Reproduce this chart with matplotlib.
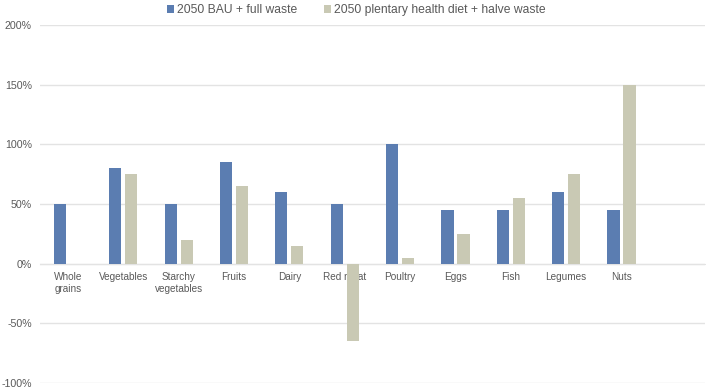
import matplotlib as mpl
import matplotlib.pyplot as plt
import numpy as np
from matplotlib.ticker import FuncFormatter

mpl.rcParams['font.family'] = ['Liberation Sans', 'DejaVu Sans']
mpl.rcParams['font.size'] = 7.5

categories = ['Whole\ngrains', 'Vegetables', 'Starchy\nvegetables', 'Fruits', 'Dairy',
              'Red meat', 'Poultry', 'Eggs', 'Fish', 'Legumes', 'Nuts', '']
bau = [50, 80, 50, 85, 60, 50, 100, 45, 45, 60, 45, np.nan]
phd = [0, 75, 20, 65, 15, -65, 5, 25, 55, 75, 150, np.nan]
series_names = ['2050 BAU + full waste', '2050 plentary health diet + halve waste']

BLUE = '#5b7db1'
GREY = '#c9c9b4'
TEXT = '#595959'

fig = plt.figure(figsize=(7.06, 3.88), dpi=100)
ax = fig.add_axes([0.057, 0.013, 0.941, 0.923])

x = np.arange(len(categories))
width = 0.22
ax.bar(x - 0.145, bau, width, color=BLUE, label=series_names[0], zorder=3)
ax.bar(x + 0.145, phd, width, color=GREY, label=series_names[1], zorder=3)

ax.set_xlim(-0.5, len(categories) - 0.5)
ax.set_ylim(-100, 200)
ax.set_yticks(np.arange(-100, 201, 50))
ax.yaxis.set_major_formatter(FuncFormatter(lambda v, p: f'{int(v)}%'))
ax.grid(axis='y', color='#e3e3e3', linewidth=1, zorder=0)

for s in ['top', 'right', 'left']:
    ax.spines[s].set_visible(False)
ax.spines['bottom'].set_position(('data', 0))
ax.spines['bottom'].set_color('#e3e3e3')
ax.spines['bottom'].set_zorder(1)

ax.set_xticks(x)
ax.set_xticklabels(categories, color=TEXT, linespacing=1.2, fontsize=7.2)
ax.tick_params(axis='x', length=0, pad=6)
ax.tick_params(axis='y', length=0, pad=6, labelcolor=TEXT, labelsize=7.7)

fig.legend(loc='center', bbox_to_anchor=(0.505, 0.973), ncol=2, frameon=False,
           fontsize=8.7, handlelength=0.6, handleheight=0.6, handletextpad=0.25,
           columnspacing=2.2, labelcolor=TEXT)

plt.savefig('out.png', dpi=100)
